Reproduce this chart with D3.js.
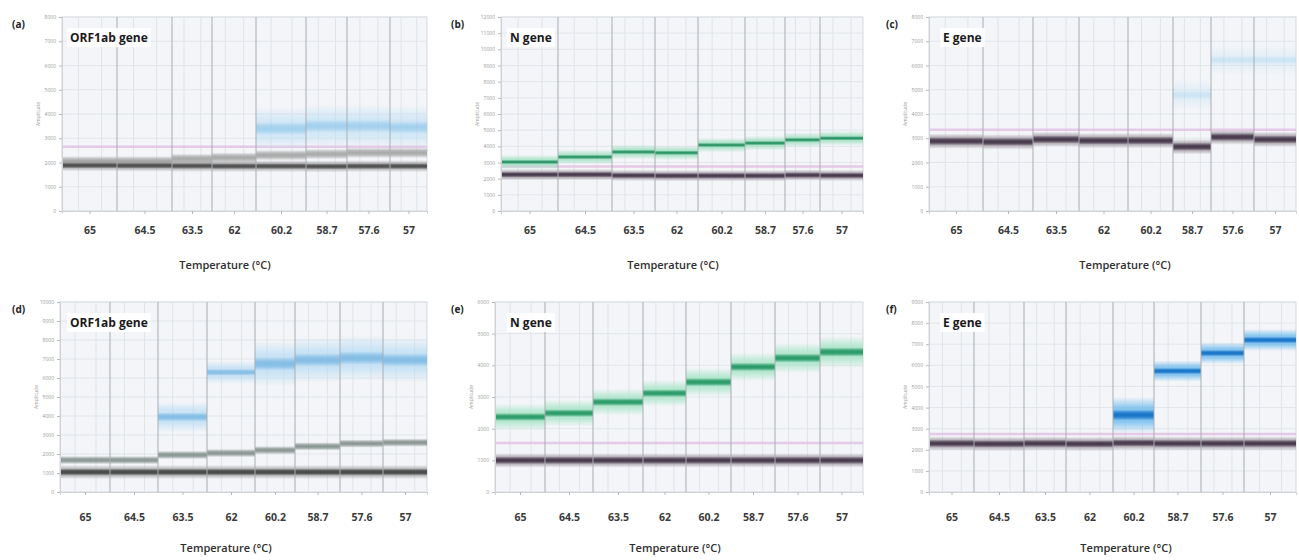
<!DOCTYPE html>
<html>
<head>
<meta charset="utf-8">
<script src="https://cdn.jsdelivr.net/npm/d3@7"></script>
<style>
body { margin: 0; background: #fff; }
svg text { font-family: "Open Sans", "Noto Sans", sans-serif; }
</style>
</head>
<body>
<div id="chart"></div>
<script>
// ---- data ----
var temps = ["65", "64.5", "63.5", "62", "60.2", "58.7", "57.6", "57"];
var panelTags = ["(a)", "(b)", "(c)", "(d)", "(e)", "(f)"];
var geneNames = ["ORF1ab gene", "N gene", "E gene", "ORF1ab gene", "N gene", "E gene"];
var yMaxes = [8000, 12000, 8000, 10000, 6000, 9000];

// droplet events per well (gives each well its width on the event axis)
var wellEvents = [
  [16500, 16500, 12000, 13200, 15000, 12300, 12900, 11100],
  [17100, 16200, 12900, 12900, 14100, 12000, 10500, 12900],
  [16200, 15000, 13800, 14700, 13500, 11400, 12900, 12600],
  [15000, 14400, 14700, 14400, 12000, 13500, 12900, 13200],
  [15000, 14400, 15000, 12900, 13500, 13200, 13500, 12900],
  [13500, 15000, 12600, 14100, 12300, 14100, 12900, 15600]
];

// negative droplet band (amplitude) per well
var negAmp = [
  [1880, 1870, 1860, 1850, 1850, 1840, 1850, 1850],
  [2250, 2250, 2200, 2180, 2180, 2180, 2220, 2200],
  [2880, 2850, 2950, 2900, 2900, 2650, 3050, 2950],
  [1050, 1050, 1050, 1050, 1050, 1050, 1050, 1050],
  [1000, 1000, 1000, 1000, 1000, 1000, 1000, 1000],
  [2300, 2280, 2300, 2280, 2320, 2300, 2300, 2300]
];
var negSpread = [250, 350, 320, 380, 230, 340];

// second, lighter negative band (null where there is none)
var midAmp = [
  [2050, 2050, 2150, 2200, 2300, 2350, 2400, 2400],
  null,
  null,
  [1680, 1680, 1950, 2050, 2200, 2400, 2550, 2600],
  null,
  null
];

// positive droplet band per well
var posAmp = [
  [null, null, null, null, 3400, 3500, 3500, 3450],
  [3030, 3340, 3650, 3600, 4080, 4200, 4400, 4500],
  [null, null, null, null, null, 4780, 6230, 6230],
  [null, null, 3950, 6300, 6750, 6950, 7050, 6950],
  [2370, 2490, 2840, 3120, 3470, 3950, 4230, 4420],
  [null, null, null, null, 3650, 5730, 6580, 7200]
];
var posSpread = [
  [0, 0, 0, 0, 900, 900, 900, 900],
  [450, 450, 450, 450, 450, 450, 450, 450],
  [0, 0, 0, 0, 0, 650, 600, 600],
  [0, 0, 800, 600, 1200, 1200, 1200, 1200],
  [420, 420, 420, 420, 450, 450, 480, 500],
  [0, 0, 0, 0, 850, 500, 520, 520]
];
var thresholds = [2650, 2750, 3350, null, 1550, 2750];

// ---- styling / layout ----
var posColors = [
  ["#b4dbf4", "#86c2ea"], ["#9fdfc0", "#1e8c5c"], ["#c3e2f5", "#a2d1f0"],
  ["#b0d8f3", "#6eb2e0"], ["#a6e4c6", "#1f9460"], ["#72bcee", "#1672c6"]
];
var negColors = [
  ["#9a9a9a", "#4d4d4d"], ["#8e8290", "#45384a"], ["#8e8290", "#45384a"],
  ["#9a9a9a", "#454545"], ["#8e8290", "#45384a"], ["#8e8290", "#45384a"]
];
var midColors = ["#a4a4a4", null, null, "#84908c", null, null];
var posStrength = [0.6, 0.95, 0.35, 0.75, 0.95, 1];

var rowTop = [17, 302], rowBottom = [211, 492];
var colLeft = [[62, 501, 929], [60, 495, 929]];
var colRight = [427, 863, 1296];
var tagX = [12, 451, 886];
var geneX = [70, 510, 943];
var titleX = [[225, 673, 1125], [226, 675, 1126]];
var tickY = [234, 521], titleY = [269, 552];

var svg = d3.select("#chart").append("svg")
  .attr("width", 1299)
  .attr("height", 560);

var defs = svg.append("defs");
var gradN = 0;
function bandGradient(color) {
  var id = "g" + (gradN++);
  var g = defs.append("linearGradient").attr("id", id)
    .attr("x1", 0).attr("y1", 0).attr("x2", 0).attr("y2", 1);
  g.append("stop").attr("offset", "0%").attr("stop-color", color).attr("stop-opacity", 0);
  g.append("stop").attr("offset", "30%").attr("stop-color", color).attr("stop-opacity", 0.8);
  g.append("stop").attr("offset", "50%").attr("stop-color", color).attr("stop-opacity", 1);
  g.append("stop").attr("offset", "70%").attr("stop-color", color).attr("stop-opacity", 0.8);
  g.append("stop").attr("offset", "100%").attr("stop-color", color).attr("stop-opacity", 0);
  return "url(#" + id + ")";
}

function drawPanel(p) {
  var row = Math.floor(p / 3), col = p % 3;
  var left = colLeft[row][col], right = colRight[col];
  var top = rowTop[row], bottom = rowBottom[row];
  var ev = wellEvents[p];
  var total = d3.sum(ev);
  var starts = [];
  var acc = 0;
  ev.forEach(function(e) { starts.push(acc); acc += e; });

  var x = d3.scaleLinear().domain([0, total]).range([left, right]);
  var y = d3.scaleLinear().domain([0, yMaxes[p]]).range([bottom, top]);

  var g = svg.append("g");

  g.append("rect")
    .attr("x", left).attr("y", top)
    .attr("width", right - left).attr("height", bottom - top)
    .attr("fill", "#f3f5f8")
    .attr("stroke", "#d4d8dc");

  var yTicks = d3.range(0, yMaxes[p] + 1, 1000);
  g.selectAll(".hgrid").data(yTicks).enter().append("line")
    .attr("x1", left).attr("x2", right)
    .attr("y1", function(d) { return y(d); }).attr("y2", function(d) { return y(d); })
    .attr("stroke", "#e2e6ea");

  // light lines inside each well
  var inner = [];
  ev.forEach(function(e, i) {
    inner.push(starts[i] + e * 0.3);
    inner.push(starts[i] + e * 0.72);
  });
  g.selectAll(".vgrid").data(inner).enter().append("line")
    .attr("x1", function(d) { return x(d); }).attr("x2", function(d) { return x(d); })
    .attr("y1", top).attr("y2", bottom)
    .attr("stroke", "#e0e4e8");

  // clusters
  var negFillHalo = bandGradient(negColors[p][0]);
  var negFillCore = bandGradient(negColors[p][1]);
  var posFillHalo = bandGradient(posColors[p][0]);
  var posFillCore = bandGradient(posColors[p][1]);
  var midFill = midColors[p] ? bandGradient(midColors[p]) : null;

  ev.forEach(function(e, i) {
    var x0 = x(starts[i]), x1 = x(starts[i] + e);
    if (midAmp[p]) {
      var m = midAmp[p][i];
      g.append("rect")
        .attr("x", x0).attr("width", x1 - x0)
        .attr("y", y(m + 220)).attr("height", y(m - 220) - y(m + 220))
        .attr("fill", midFill).attr("opacity", 0.95);
    }
    var n = negAmp[p][i], s = negSpread[p];
    g.append("rect")
      .attr("x", x0).attr("width", x1 - x0)
      .attr("y", y(n + s)).attr("height", y(n - s) - y(n + s))
      .attr("fill", negFillHalo).attr("opacity", 0.9);
    g.append("rect")
      .attr("x", x0).attr("width", x1 - x0)
      .attr("y", y(n + s * 0.5)).attr("height", y(n - s * 0.5) - y(n + s * 0.5))
      .attr("fill", negFillCore);
  });

  if (thresholds[p] != null) {
    g.append("line")
      .attr("x1", left).attr("x2", right)
      .attr("y1", y(thresholds[p])).attr("y2", y(thresholds[p]))
      .attr("stroke", "#e3bfe2").attr("stroke-width", 2.5).attr("opacity", 0.8);
  }

  ev.forEach(function(e, i) {
    var a = posAmp[p][i];
    if (a == null) return;
    var x0 = x(starts[i]), x1 = x(starts[i] + e);
    var s = posSpread[p][i];
    g.append("rect")
      .attr("x", x0).attr("width", x1 - x0)
      .attr("y", y(a + s)).attr("height", y(a - s) - y(a + s))
      .attr("fill", posFillHalo).attr("opacity", posStrength[p]);
    g.append("rect")
      .attr("x", x0).attr("width", x1 - x0)
      .attr("y", y(a + s * 0.3)).attr("height", y(a - s * 0.3) - y(a + s * 0.3))
      .attr("fill", posFillCore).attr("opacity", posStrength[p]);
  });

  // well separators
  g.selectAll(".sep").data(starts.slice(1)).enter().append("line")
    .attr("x1", function(d) { return x(d); }).attr("x2", function(d) { return x(d); })
    .attr("y1", top).attr("y2", bottom)
    .attr("stroke", "#a9adb1");

  // y axis
  var yAxis = g.append("g")
    .attr("transform", "translate(" + left + ",0)")
    .call(d3.axisLeft(y).tickValues(yTicks).tickSize(3).tickFormat(d3.format("d")));
  yAxis.select(".domain").attr("stroke", "#cfd3d7");
  yAxis.selectAll(".tick line").attr("stroke", "#b5b9bd");
  yAxis.selectAll("text").attr("font-size", 5).attr("fill", "#9a9a9a");

  g.append("text")
    .attr("transform", "translate(" + (left - 22) + "," + ((top + bottom) / 2) + ") rotate(-90)")
    .attr("text-anchor", "middle")
    .attr("font-size", 5).attr("fill", "#9a9a9a")
    .text("Amplitude");

  // x axis: one tick per well, centred
  var centers = ev.map(function(e, i) { return starts[i] + e / 2; });
  var xAxis = g.append("g")
    .attr("transform", "translate(0," + bottom + ")")
    .call(d3.axisBottom(x).tickValues(centers).tickSize(3).tickFormat(function(d, i) { return temps[i]; }));
  xAxis.select(".domain").attr("stroke", "#cfd3d7");
  xAxis.selectAll(".tick line").attr("stroke", "#b5b9bd");
  xAxis.selectAll("text")
    .attr("y", tickY[row] - bottom)
    .attr("dy", 0)
    .attr("font-size", 10.5).attr("font-weight", 700).attr("fill", "#3a3a3a");

  g.append("text")
    .attr("x", titleX[row][col]).attr("y", titleY[row])
    .attr("text-anchor", "middle")
    .attr("font-size", 11).attr("font-weight", 600).attr("fill", "#2e2e2e")
    .text("Temperature (\u00B0C)");

  // tag and gene name
  g.append("text")
    .attr("x", tagX[col]).attr("y", top + 11)
    .attr("font-size", 10).attr("font-weight", 700).attr("fill", "#222")
    .text(panelTags[p]);

  var gene = g.append("text")
    .attr("x", geneX[col]).attr("y", top + 25)
    .attr("font-size", 12).attr("font-weight", 700).attr("fill", "#1a1a1a")
    .text(geneNames[p]);
  var bb = gene.node().getBBox();
  g.insert("rect", function() { return gene.node(); })
    .attr("x", bb.x - 3).attr("y", bb.y - 1)
    .attr("width", bb.width + 6).attr("height", bb.height + 2)
    .attr("fill", "#fff").attr("opacity", 0.9);
}

d3.range(6).forEach(drawPanel);
</script>
</body>
</html>
